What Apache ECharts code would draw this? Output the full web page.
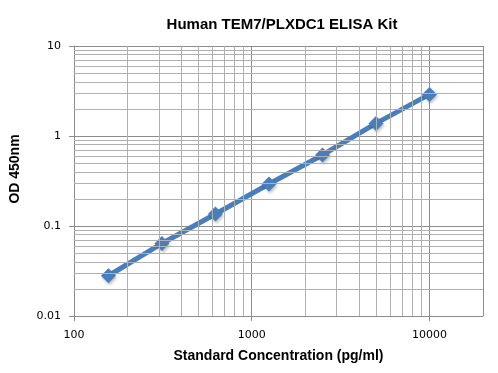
<!DOCTYPE html>
<html>
<head>
<meta charset="utf-8">
<script src="https://cdn.jsdelivr.net/npm/echarts@6/dist/echarts.min.js"></script>
<style>
html,body{margin:0;padding:0;background:#fff;}
#chart{width:498px;height:373px;}
</style>
</head>
<body>
<div id="chart"></div>
<script>
const titleText = "Human TEM7/PLXDC1 ELISA Kit";
const xName = "Standard Concentration (pg/ml)";
const yName = "OD 450nm";
const concentrations = [156.25, 312.5, 625, 1250, 2500, 5000, 10000];
const od = [0.028, 0.064, 0.136, 0.293, 0.615, 1.38, 2.9];
const xTickLabels = [100, 1000, 10000];
const yTickLabels = [0.01, 0.1, 1, 10];
const xMinorGrid = [200,300,400,500,600,700,800,900,2000,3000,4000,5000,6000,7000,8000,9000];
const yMinorGrid = [0.02,0.03,0.04,0.05,0.06,0.07,0.08,0.09,0.2,0.3,0.4,0.5,0.6,0.7,0.8,0.9,2,3,4,5,6,7,8,9];

function fmt(list) {
  return function (v) {
    for (const t of list) { if (Math.abs(v - t) / t < 1e-6) return String(t); }
    return '';
  };
}

const chart = echarts.init(document.getElementById('chart'));
const font = 'Liberation Sans';
const labelFont = 'DejaVu Sans';
chart.setOption({
  animation: false,
  backgroundColor: '#fff',
  title: {
    text: titleText, left: 277, top: 12, textAlign: 'center',
    textStyle: { fontFamily: font, fontSize: 15, fontWeight: 'bold', color: '#000' }
  },
  grid: { left: 70, right: 15, top: 46, bottom: 57 },
  xAxis: {
    type: 'log', logBase: 10, min: 100, max: 20000,
    name: xName, nameLocation: 'middle', nameGap: 33,
    nameTextStyle: { fontFamily: font, fontSize: 14, fontWeight: 'bold', color: '#000' },
    axisLine: { show: true, lineStyle: { color: '#8c8c8c', width: 1 } },
    axisTick: { show: true, length: 5, lineStyle: { color: '#8c8c8c' } },
    axisLabel: { formatter: fmt(xTickLabels), margin: 14, fontFamily: labelFont, fontSize: 11, color: '#000', showMaxLabel: false },
    splitLine: { show: true, lineStyle: { color: '#8c8c8c', width: 1 } },
    minorTick: { show: false }, minorSplitLine: { show: false }
  },
  yAxis: {
    type: 'log', logBase: 10, min: 0.01, max: 10,
    name: yName, nameLocation: 'middle', nameGap: 52, nameRotate: 90,
    nameTextStyle: { fontFamily: font, fontSize: 14, fontWeight: 'bold', color: '#000', padding: [0, 0, 0, 24] },
    axisLine: { show: true, lineStyle: { color: '#8c8c8c', width: 1 } },
    axisTick: { show: true, length: 5, lineStyle: { color: '#8c8c8c' } },
    axisLabel: { formatter: fmt(yTickLabels), margin: 13, fontFamily: labelFont, fontSize: 11, color: '#000' },
    splitLine: { show: true, lineStyle: { color: '#8c8c8c', width: 1 } },
    minorTick: { show: false }, minorSplitLine: { show: false }
  },
  series: [
    {
      type: 'line', z: 1, silent: true,
      data: concentrations.map((c, i) => [c, od[i]]),
      showSymbol: false, lineStyle: { opacity: 0 },
      markLine: {
        silent: true, symbol: 'none', animation: false,
        label: { show: false },
        lineStyle: { color: '#b0b0b0', width: 1, type: 'solid' },
        data: xMinorGrid.map(v => ({ xAxis: v })).concat(yMinorGrid.map(v => ({ yAxis: v })))
      }
    },
    {
      type: 'line', z: 3,
      data: concentrations.map((c, i) => [c, od[i]]),
      symbol: 'diamond', symbolSize: 15,
      lineStyle: { color: '#4A7EBB', width: 5 },
      itemStyle: { color: '#4A7EBB', shadowColor: 'rgba(0,0,0,0.25)', shadowBlur: 3, shadowOffsetX: 1, shadowOffsetY: 2 }
    }
  ]
});
</script>
</body>
</html>
